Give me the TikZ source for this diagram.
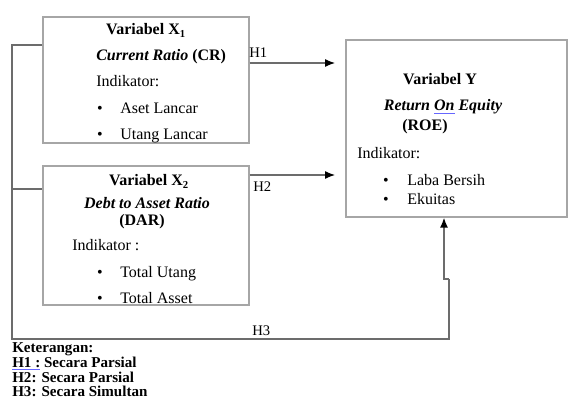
\documentclass[tikz,border=0pt]{standalone}
\usepackage{fontspec}
\setmainfont{Liberation Serif}
\usetikzlibrary{arrows.meta}
\newcommand{\blueul}[1]{{\color{blue!60}\underline{\color{black}#1}}}
\begin{document}
\begin{tikzpicture}[x=0.75pt,y=-0.75pt,
  box/.style={draw=gray!70,line width=0.8pt,inner sep=0pt},
  conn/.style={draw=gray!85!black,line width=0.9pt},
  arr/.style={-{Latex[length=7.5pt,width=6pt,color=black]}},
  txt/.style={inner sep=0pt,font=\fontsize{12}{14}\selectfont},
  lbl/.style={inner sep=0pt,font=\fontsize{11}{13}\selectfont},
  leg/.style={inner sep=0pt,anchor=base west,font=\fontsize{11.3}{12}\selectfont\bfseries}]
\useasboundingbox (0,0) rectangle (568,399);
% boxes
\node[box,minimum width=154.5pt,minimum height=94.5pt] (x1) at (146,80) {};
\node[box,minimum width=154.5pt,minimum height=104.25pt] (x2) at (146,235.5) {};
\node[box,minimum width=165.75pt,minimum height=132.75pt] (y) at (456.5,128.5) {};
% X1 texts
\node[txt,anchor=base] (x1t) at (146,35) {\bfseries Variabel X\textsubscript{1}};
\node[txt,anchor=base west] (x1r) at (96,61) {\bfseries\itshape Current Ratio \upshape(CR)};
\node[txt,anchor=base west] (x1i) at (96,87) {Indikator:};
\node[txt,anchor=base] (x1b1) at (100,114) {\textbullet};
\node[txt,anchor=base west] (x1a) at (120,114) {Aset Lancar};
\node[txt,anchor=base] (x1b2) at (100,140) {\textbullet};
\node[txt,anchor=base west] (x1u) at (120,140) {Utang Lancar};
% X2 texts
\node[txt,anchor=base] (x2t) at (149,186) {\bfseries Variabel X\textsubscript{2}};
\node[txt,anchor=base] (x2r) at (147,209) {\bfseries\itshape Debt to Asset Ratio};
\node[txt,anchor=base] (x2d) at (142,226) {\bfseries (DAR)};
\node[txt,anchor=base west] (x2i) at (72,251) {Indikator :};
\node[txt,anchor=base] (x2b1) at (100,277) {\textbullet};
\node[txt,anchor=base west] (x2u) at (120,277) {Total Utang};
\node[txt,anchor=base] (x2b2) at (100,303) {\textbullet};
\node[txt,anchor=base west] (x2a) at (120,303) {Total Asset};
% Y texts
\node[txt,anchor=base] (yt) at (440,85) {\bfseries Variabel Y};
\node[txt,anchor=base] (yr) at (443,111) {\bfseries\itshape Return \blueul{On} Equity};
\node[txt,anchor=base] (yd) at (425,131) {\bfseries (ROE)};
\node[txt,anchor=base west] (yi) at (357,159) {Indikator:};
\node[txt,anchor=base] (yb1) at (386,186) {\textbullet};
\node[txt,anchor=base west] (yl) at (407,186) {Laba Bersih};
\node[txt,anchor=base] (yb2) at (386,205) {\textbullet};
\node[txt,anchor=base west] (ye) at (407,205) {Ekuitas};
% connectors
\coordinate (h1end) at (335,63);
\coordinate (h2end) at (335,175);
\coordinate (lt) at (12,45);
\coordinate (lm) at (12,189);
\coordinate (lb) at (12,339);
\coordinate (rb) at (449,339);
\coordinate (rj) at (449,279);
\coordinate (rk) at (444,279);
\draw[conn,arr] (x1.east |- h1end) -- (h1end);
\draw[conn,arr] (x2.east |- h2end) -- (h2end);
\draw[conn] (x1.west |- lt) -- (lt) -- (lb) -- (rb) -- (rj);
\draw[conn,line width=1.3pt,arr] (rj) -- (rk) -- (rk |- y.south);
\draw[conn] (lm) -- (x2.west |- lm);
% labels
\node[lbl,anchor=base west] (h1) at (249,58) {H1};
\node[lbl,anchor=base west] (h2) at (253,192) {H2};
\node[lbl,anchor=base west] (h3) at (252,335) {H3};
% legend
\node[leg] (k0) at (12,352) {Keterangan:};
\node[leg] (k1) at (12,367) {\blueul{H1 :} Secara Parsial};
\node[leg] (k2) at (12,382) {H2: Secara Parsial};
\node[leg] (k3) at (12,396) {H3: Secara Simultan};
\end{tikzpicture}
\end{document}
